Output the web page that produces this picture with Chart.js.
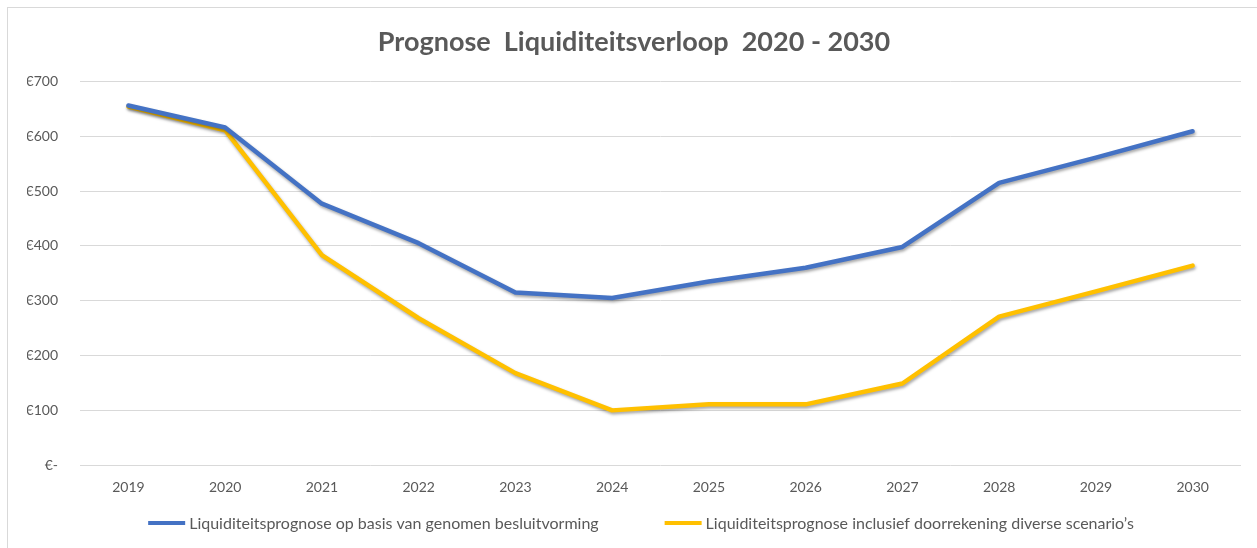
<!DOCTYPE html>
<html>
<head>
<meta charset="utf-8">
<script src="https://cdn.jsdelivr.net/npm/chart.js@4.4.1/dist/chart.umd.min.js"></script>
<style>
  html, body { margin: 0; padding: 0; background: #fff; }
  #wrap { position: relative; width: 1257px; height: 548px; }
  #frame { position: absolute; left: 7px; top: 7px; right: 0; bottom: 0; border-left: 1.5px solid #d9d9d9; border-top: 1.5px solid #d9d9d9; pointer-events: none; }
  canvas { position: absolute; left: 0; top: 0; }
</style>
</head>
<body>
<div id="wrap">
  <canvas id="c" width="1257" height="548"></canvas>
  <div id="frame"></div>
</div>
<script>
const titleText = 'Prognose  Liquiditeitsverloop  2020 - 2030';
const years = ['2019','2020','2021','2022','2023','2024','2025','2026','2027','2028','2029','2030'];
const seriesNames = [
  'Liquiditeitsprognose op basis van genomen besluitvorming',
  'Liquiditeitsprognose inclusief doorrekening diverse scenario\u2019s'
];
const besluitvorming = [656, 616, 477, 405, 315, 305, 335, 360, 398, 515, 561, 609];
const scenarios = [654, 611, 383, 268, 168, 100, 111, 111, 149, 271, 317, 364];
const yTicks = [0, 100, 200, 300, 400, 500, 600, 700];

const FONT = 'Lato, "Open Sans", sans-serif';
const TXT = '#595959';

const shadowPlugin = {
  id: 'lineShadow',
  beforeDatasetDraw(chart) {
    const ctx = chart.ctx;
    ctx.save();
    ctx.shadowColor = 'rgba(0,0,0,0.35)';
    ctx.shadowBlur = 3;
    ctx.shadowOffsetX = 1;
    ctx.shadowOffsetY = 2;
  },
  afterDatasetDraw(chart) {
    chart.ctx.restore();
  }
};

// Legend drawn below the axis: line swatch + text for each dataset
const bottomLegend = {
  id: 'bottomLegend',
  afterDraw(chart) {
    const ctx = chart.ctx;
    const y = 523, lineW = 37, gapText = 4, gapItem = 66;
    ctx.save();
    ctx.font = '16px ' + FONT;
    ctx.textBaseline = 'middle';
    const items = chart.data.datasets.map(ds => ({ text: ds.label, color: ds.borderColor, w: ctx.measureText(ds.label).width }));
    const total = items.reduce((s, it) => s + lineW + gapText + it.w, 0) + gapItem * (items.length - 1);
    let x = 641 - total / 2;
    items.forEach(it => {
      ctx.fillStyle = it.color;
      ctx.fillRect(x, y - 2, lineW, 4);
      x += lineW + gapText;
      ctx.fillStyle = TXT;
      ctx.textAlign = 'left';
      ctx.fillText(it.text, x, y + 1);
      x += it.w + gapItem;
    });
    ctx.restore();
  }
};

new Chart(document.getElementById('c'), {
  type: 'line',
  data: {
    labels: years,
    datasets: [
      { label: seriesNames[0], data: besluitvorming, borderColor: '#4472C4', backgroundColor: '#4472C4', borderWidth: 4.5, pointRadius: 0, tension: 0, borderJoinStyle: 'round', borderCapStyle: 'round', fill: false },
      { label: seriesNames[1], data: scenarios, borderColor: '#FFC000', backgroundColor: '#FFC000', borderWidth: 4.5, pointRadius: 0, tension: 0, borderJoinStyle: 'round', borderCapStyle: 'round', fill: false }
    ]
  },
  options: {
    responsive: false,
    animation: false,
    devicePixelRatio: 1,
    layout: { padding: { left: 27, right: 16, top: 26, bottom: 38 } },
    plugins: {
      tooltip: { enabled: false },
      legend: { display: false },
      title: {
        display: true,
        text: titleText,
        color: TXT,
        font: { family: FONT, size: 27, weight: 'bold' },
        padding: { top: 0, bottom: 23 }
      }
    },
    scales: {
      x: {
        offset: true,
        grid: { display: false, drawTicks: false },
        border: { display: false },
        ticks: { color: TXT, font: { family: FONT, size: 14 }, padding: 14, maxRotation: 0 }
      },
      y: {
        min: 0,
        max: 700,
        afterBuildTicks(scale) { scale.ticks = yTicks.map(v => ({ value: v })); },
        afterFit(scale) { scale.width = 53; },
        grid: { color: '#d9d9d9', lineWidth: 1, drawTicks: false },
        border: { display: false },
        ticks: {
          color: TXT,
          font: { family: FONT, size: 14 },
          padding: 22,
          callback: v => v === 0 ? '\u20AC-' : '\u20AC' + v
        }
      }
    }
  },
  plugins: [shadowPlugin, bottomLegend]
});
</script>
</body>
</html>
